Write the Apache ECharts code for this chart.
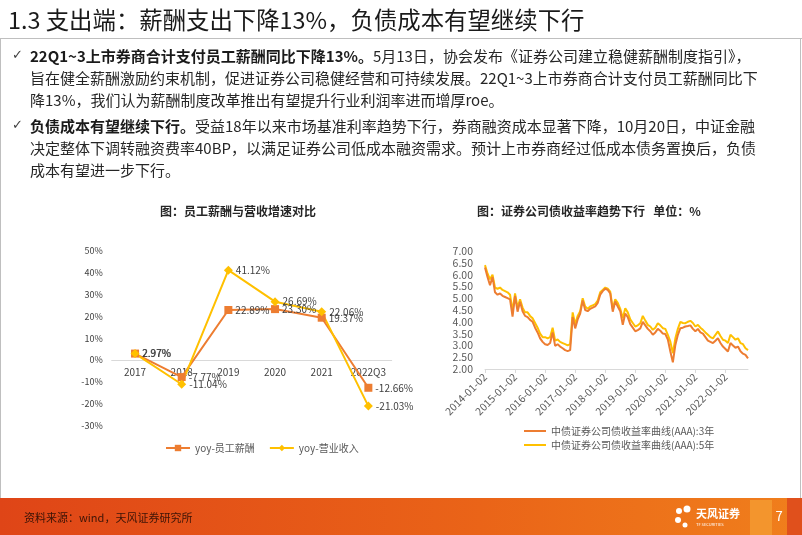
<!DOCTYPE html>
<html>
<head>
<meta charset="utf-8">
<script src="https://cdn.jsdelivr.net/npm/echarts@6/dist/echarts.min.js"></script>
<style>
  html, body { margin: 0; padding: 0; background: #fff; }
  #chart { width: 802px; height: 535px; }
</style>
</head>
<body>
<div id="chart"></div>
<script>
const FONT = '"Noto Sans CJK SC", "Noto Sans", sans-serif'

// left chart: yoy growth
const yoyCats = ['2017', '2018', '2019', '2020', '2021', '2022Q3']
const salaryYoy = [2.97, -7.77, 22.89, 23.30, 19.37, -12.66]
const revenueYoy = [2.97, -11.04, 41.12, 26.69, 22.06, -21.03]

// right chart: monthly yields 2014-01 .. 2022-10
const yield3y = [
  6.30, 5.90, 5.55, 5.90, 5.25, 5.15, 5.20, 5.10, 5.05, 5.00, 4.95, 4.22,
  5.10, 4.43, 4.85, 4.45, 4.25, 4.20, 4.08, 4.00, 3.75, 3.55, 3.30, 3.15,
  3.05, 3.02, 3.10, 3.55, 2.98, 3.05, 2.95, 2.88, 2.80, 2.76, 2.80, 4.20,
  3.72, 4.10, 4.35, 4.90, 4.50, 4.45, 4.55, 4.60, 4.65, 4.80, 5.15, 5.30,
  5.40, 5.35, 5.20, 4.43, 4.86, 4.65, 4.45, 3.87, 4.35, 4.20, 3.90, 3.75,
  3.60, 3.65, 3.72, 4.00, 3.85, 3.70, 3.60, 3.45, 3.55, 3.70, 3.62, 3.50,
  3.48, 3.25, 2.74, 2.28, 3.02, 3.45, 3.73, 3.75, 3.80, 3.82, 3.85, 3.70,
  3.60, 3.70, 3.55, 3.50, 3.35, 3.20, 3.15, 3.10, 3.20, 3.30, 3.10, 2.95,
  2.85, 2.74, 3.10, 3.00, 2.90, 2.95, 2.75, 2.65, 2.60, 2.45
]
const yield5y = [
  6.40, 6.05, 5.80, 6.00, 5.45, 5.40, 5.45, 5.35, 5.30, 5.25, 5.15, 4.45,
  5.20, 4.60, 4.95, 4.60, 4.40, 4.40, 4.25, 4.15, 3.95, 3.75, 3.50, 3.35,
  3.35, 3.30, 3.35, 3.75, 3.20, 3.25, 3.15, 3.10, 3.05, 3.00, 3.05, 4.40,
  3.90, 4.25, 4.45, 5.00, 4.65, 4.55, 4.65, 4.70, 4.75, 4.90, 5.25, 5.35,
  5.45, 5.40, 5.28, 4.55, 4.95, 4.80, 4.55, 4.15, 4.57, 4.40, 4.10, 3.95,
  3.80, 3.85, 3.94, 4.25, 4.05, 3.87, 3.80, 3.66, 3.75, 3.94, 3.85, 3.73,
  3.70, 3.45, 3.16, 2.67, 3.30, 3.70, 4.00, 3.95, 3.94, 4.00, 4.04, 3.95,
  3.80, 3.87, 3.75, 3.66, 3.55, 3.45, 3.35, 3.30, 3.45, 3.59, 3.40, 3.24,
  3.20, 3.10, 3.45, 3.35, 3.24, 3.30, 3.10, 3.05, 2.88, 2.80
]
const months = []
for (let y = 2014; y <= 2022; y++) {
  for (let m = 1; m <= 12; m++) {
    if (months.length < yield3y.length) months.push(y + '-' + String(m).padStart(2, '0'))
  }
}

const ORANGE = '#ED7D31'
const YELLOW = '#FFC000'

const chart = echarts.init(document.getElementById('chart'), null, { renderer: 'canvas' })

const bulletStyle = {
  fontFamily: FONT,
  fontSize: 15,
  fill: '#262626',
  rich: {
    b: { fontFamily: FONT, fontSize: 15, fontWeight: 'bold', fill: '#1a1a1a' },
    n: { fontFamily: FONT, fontSize: 15, fill: '#262626' }
  }
}
function textLine(x, y, text) {
  return { type: 'text', x, y, style: Object.assign({}, bulletStyle, { text, verticalAlign: 'middle' }) }
}

chart.setOption({
  animation: false,
  textStyle: { fontFamily: FONT },
  graphic: [
    // page frame
    { type: 'line', shape: { x1: 0, y1: 38.5, x2: 802, y2: 38.5 }, style: { stroke: '#bfbfbf', lineWidth: 1 } },
    { type: 'line', shape: { x1: 0.5, y1: 38, x2: 0.5, y2: 498 }, style: { stroke: '#bfbfbf', lineWidth: 1 } },
    { type: 'line', shape: { x1: 800.5, y1: 38, x2: 800.5, y2: 498 }, style: { stroke: '#bfbfbf', lineWidth: 1 } },
    {
      type: 'text', x: 8, y: 20,
      style: { text: '1.3 支出端：薪酬支出下降13%，负债成本有望继续下行', fontFamily: FONT, fontSize: 23.4, fill: '#1a1a1a', verticalAlign: 'middle' }
    },
    // bullets
    { type: 'text', x: 12, y: 56, style: { text: '✓', fontFamily: '"DejaVu Sans", sans-serif', fontSize: 13, fill: '#404040', verticalAlign: 'middle' } },
    { type: 'text', x: 12, y: 126, style: { text: '✓', fontFamily: '"DejaVu Sans", sans-serif', fontSize: 13, fill: '#404040', verticalAlign: 'middle' } },
    textLine(30, 56, '{b|22Q1~3上市券商合计支付员工薪酬同比下降13%。}{n|5月13日，协会发布《证券公司建立稳健薪酬制度指引》，}'),
    textLine(30, 78, '{n|旨在健全薪酬激励约束机制，促进证券公司稳健经营和可持续发展。22Q1~3上市券商合计支付员工薪酬同比下}'),
    textLine(30, 100, '{n|降13%，我们认为薪酬制度改革推出有望提升行业利润率进而增厚roe。}'),
    textLine(30, 126, '{b|负债成本有望继续下行。}{n|受益18年以来市场基准利率趋势下行，券商融资成本显著下降，10月20日，中证金融}'),
    textLine(30, 148, '{n|决定整体下调转融资费率40BP，以满足证券公司低成本融资需求。预计上市券商经过低成本债务置换后，负债}'),
    textLine(30, 170, '{n|成本有望进一步下行。}'),
    // chart titles
    {
      type: 'text', x: 238, y: 211,
      style: { text: '图：员工薪酬与营收增速对比', fontFamily: FONT, fontSize: 12, fontWeight: 'bold', fill: '#262626', align: 'center', verticalAlign: 'middle' }
    },
    {
      type: 'text', x: 477, y: 211,
      style: { text: '图：证券公司债收益率趋势下行   单位：%', fontFamily: FONT, fontSize: 12, fontWeight: 'bold', fill: '#262626', verticalAlign: 'middle' }
    },
    // footer band
    {
      type: 'rect', shape: { x: 0, y: 498, width: 802, height: 37 },
      style: {
        fill: new echarts.graphic.LinearGradient(0, 0, 1, 0, [
          { offset: 0, color: '#DF4517' },
          { offset: 0.6, color: '#EA6418' },
          { offset: 1, color: '#F07F1C' }
        ])
      }
    },
    { type: 'rect', shape: { x: 750, y: 500, width: 22, height: 35 }, style: { fill: '#F39A30', opacity: 0.85 } },
    { type: 'rect', shape: { x: 787, y: 498, width: 15, height: 37 }, style: { fill: '#E0501C' } },
    {
      type: 'text', x: 24, y: 518,
      style: { text: '资料来源：wind，天风证券研究所', fontFamily: FONT, fontSize: 11, fill: '#3b1407', verticalAlign: 'middle' }
    },
    { type: 'circle', shape: { cx: 679, cy: 511, r: 3 }, style: { fill: '#fff' } },
    { type: 'circle', shape: { cx: 687, cy: 509, r: 3.5 }, style: { fill: '#fff' } },
    { type: 'circle', shape: { cx: 678, cy: 520, r: 3 }, style: { fill: '#fff' } },
    { type: 'circle', shape: { cx: 685, cy: 525, r: 2.5 }, style: { fill: '#fff' } },
    {
      type: 'text', x: 696, y: 514,
      style: { text: '天风证券', fontFamily: FONT, fontSize: 11, fontWeight: 'bold', fill: '#fff', verticalAlign: 'middle' }
    },
    {
      type: 'text', x: 696, y: 524,
      style: { text: 'TF SECURITIES', fontFamily: FONT, fontSize: 4, fill: '#fff', verticalAlign: 'middle' }
    },
    {
      type: 'text', x: 779, y: 516,
      style: { text: '7', fontFamily: FONT, fontSize: 13, fill: '#fff', align: 'center', verticalAlign: 'middle' }
    }
  ],
  legend: [
    {
      data: ['yoy-员工薪酬', 'yoy-营业收入'],
      left: 160, top: 438,
      itemWidth: 24, itemHeight: 8, itemGap: 14,
      textStyle: { fontSize: 10, color: '#595959', fontFamily: FONT }
    },
    {
      data: ['中债证券公司债收益率曲线(AAA):3年', '中债证券公司债收益率曲线(AAA):5年'],
      orient: 'vertical',
      left: 518, top: 421,
      itemWidth: 22, itemHeight: 2, itemGap: 4,
      textStyle: { fontSize: 10, color: '#595959', fontFamily: FONT }
    }
  ],
  grid: [
    { left: 111.7, right: 410.3, top: 250.7, bottom: 109.3 },
    { left: 485, right: 54, top: 251, bottom: 166 }
  ],
  xAxis: [
    {
      gridIndex: 0, type: 'category', data: yoyCats,
      offset: -65.7,
      axisLine: { onZero: false, lineStyle: { color: '#d9d9d9' } },
      axisTick: { show: false },
      axisLabel: { fontSize: 10, color: '#404040', margin: 7 }
    },
    {
      gridIndex: 1, type: 'category', data: months, boundaryGap: false,
      axisLine: { lineStyle: { color: '#d9d9d9' } },
      axisTick: { show: true, length: 4, lineStyle: { color: '#d9d9d9' }, interval: (i, v) => v.slice(5) === '01' },
      axisLabel: {
        fontSize: 10.5, color: '#595959', rotate: 45, margin: 6,
        interval: (i, v) => v.slice(5) === '01',
        formatter: v => v + '-02'
      }
    }
  ],
  yAxis: [
    {
      gridIndex: 0, type: 'value', min: -30, max: 50, interval: 10,
      axisLine: { show: false }, axisTick: { show: false }, splitLine: { show: false },
      axisLabel: { fontSize: 9, color: '#404040', formatter: '{value}%', margin: 9 }
    },
    {
      gridIndex: 1, type: 'value', min: 2, max: 7, interval: 0.5,
      axisLine: { show: false }, axisTick: { show: false }, splitLine: { show: false },
      axisLabel: { fontSize: 10.5, color: '#595959', formatter: v => v.toFixed(2), margin: 12 }
    }
  ],
  series: [
    {
      name: 'yoy-员工薪酬', type: 'line', xAxisIndex: 0, yAxisIndex: 0,
      data: salaryYoy, symbol: 'rect', symbolSize: 8,
      itemStyle: { color: ORANGE }, lineStyle: { color: ORANGE, width: 2 },
      label: { show: true, position: 'right', distance: 3, fontSize: 10, color: '#404040', formatter: p => p.value.toFixed(2) + '%' }
    },
    {
      name: 'yoy-营业收入', type: 'line', xAxisIndex: 0, yAxisIndex: 0,
      data: revenueYoy, symbol: 'diamond', symbolSize: 9,
      itemStyle: { color: YELLOW }, lineStyle: { color: YELLOW, width: 2 },
      label: { show: true, position: 'right', distance: 3, fontSize: 10, color: '#404040', formatter: p => p.value.toFixed(2) + '%' }
    },
    {
      name: '中债证券公司债收益率曲线(AAA):3年', type: 'line', xAxisIndex: 1, yAxisIndex: 1,
      data: yield3y, symbol: 'none', z: 3,
      itemStyle: { color: ORANGE }, lineStyle: { color: ORANGE, width: 2 }
    },
    {
      name: '中债证券公司债收益率曲线(AAA):5年', type: 'line', xAxisIndex: 1, yAxisIndex: 1,
      data: yield5y, symbol: 'none', z: 2,
      itemStyle: { color: YELLOW }, lineStyle: { color: YELLOW, width: 2 }
    }
  ]
})
</script>
</body>
</html>
